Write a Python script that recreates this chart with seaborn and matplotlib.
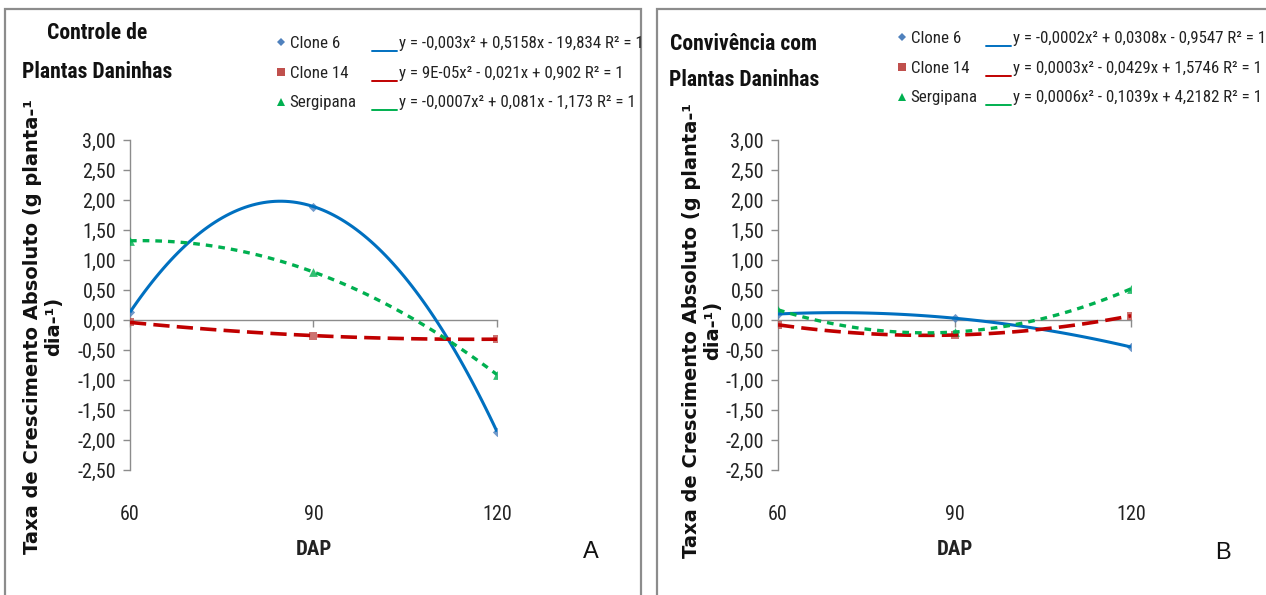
import numpy as np
import pandas as pd
import matplotlib
matplotlib.use("Agg")
import matplotlib.pyplot as plt
import seaborn as sns
from matplotlib import font_manager as fm
from matplotlib.lines import Line2D
from matplotlib.patches import Rectangle
from matplotlib.legend_handler import HandlerLine2D

# ---------------- data ----------------
dap = [60, 90, 120]
a_clone6 = [0.13, 1.89, -1.86]
a_clone14 = [-0.04, -0.26, -0.32]
a_sergipana = [1.32, 0.80, -0.91]
b_clone6 = [0.10, 0.03, -0.45]
b_clone14 = [-0.08, -0.25, 0.07]
b_sergipana = [0.17, -0.20, 0.52]
series_names = ["Clone 6", "Clone 14", "Sergipana"]
eq_a = ["y = -0,003x² + 0,5158x - 19,834 R² = 1",
        "y = 9E-05x² - 0,021x + 0,902 R² = 1",
        "y = -0,0007x² + 0,081x - 1,173 R² = 1"]
eq_b = ["y = -0,0002x² + 0,0308x - 0,9547 R² = 1",
        "y = 0,0003x² - 0,0429x + 1,5746 R² = 1",
        "y = 0,0006x² - 0,1039x + 4,2182 R² = 1"]
y_ticks = [3.0, 2.5, 2.0, 1.5, 1.0, 0.5, 0.0, -0.5, -1.0, -1.5, -2.0, -2.5]
x_ticks = [60, 90, 120]
title_a = ["Controle de", "Plantas Daninhas"]
title_b = ["Convivência com", "Plantas Daninhas"]
ylabel = "Taxa de Crescimento Absoluto (g planta-¹\ndia-¹)"

# ---------------- style ----------------
sns.set_style("white")

# pick a condensed face if one is installed
_entries = fm.fontManager.ttflist
_pref = ["Liberation Sans Narrow", "Roboto Condensed", "Open Sans Condensed",
         "Noto Sans Condensed", "Arial Narrow"]
_names = {e.name for e in _entries}
NFAM, NSTRETCH, NSCALE = None, "normal", 1.0
for p in _pref:
    if p in _names:
        NFAM = p
        break
if NFAM is None:
    for fam in ["Noto Sans", "Open Sans", "Roboto", "DejaVu Sans"]:
        if any(e.name == fam and str(e.stretch) in ("condensed", "semi-condensed",
                                                      "extra-condensed")
               for e in _entries):
            NFAM, NSTRETCH = fam, "condensed"
            break
if NFAM is None:
    NFAM, NSCALE = "Liberation Sans", 0.88
NARROW = [NFAM, "DejaVu Sans"]
plt.rcParams["font.family"] = NARROW
plt.rcParams["font.stretch"] = NSTRETCH


def fs(v):
    return v * NSCALE


W, H = 1266, 595
fig = plt.figure(figsize=(W / 100, H / 100), dpi=100)
fig.patch.set_facecolor("white")

line_colors = ["#0070C0", "#C00000", "#00B050"]
mark_colors = ["#4F81BD", "#C0504D", "#00B050"]
markers = ["D", "s", "^"]
msizes = [22, 34, 40]
lws = [2.2, 2.6, 2.4]
dashes = [None, (4.5, 2.0), (2.0, 1.8)]
GRAY = "#8C8C8C"
TXT = "#222222"
LEG_FS = fs(12.2)


def fx(px):
    return px / W


def fy(py):
    return 1 - py / H


class UnderLine(HandlerLine2D):
    """Legend line drawn low, like an underline (Excel trendline sample)."""

    def create_artists(self, legend, orig_handle, xdescent, ydescent, width,
                       height, fontsize, trans):
        arts = super().create_artists(legend, orig_handle, xdescent, ydescent,
                                      width, height, fontsize, trans)
        for a in arts:
            yd = np.asarray(a.get_ydata(), float)
            a.set_ydata(np.full_like(yd, -0.25 * height))
        return arts


# panel borders
for x0, x1 in [(5, 641), (657, 1270)]:
    fig.add_artist(Rectangle((fx(x0), fy(600)), fx(x1) - fx(x0), fy(9) - fy(600),
                             transform=fig.transFigure, fill=False,
                             ec=GRAY, lw=1.6))


def make_panel(xl, xr, series, eqs, title, title_y, title_cx, leg1_x, leg2_x,
               leg_top, ylab_cx, ylab_cy, letter, letter_xy):
    ax = fig.add_axes([fx(xl), fy(470), fx(xr) - fx(xl), fy(140) - fy(470)])
    ax.set_facecolor("none")
    for i, vals in enumerate(series):
        df = pd.DataFrame({"DAP": dap, "val": vals})
        lk = dict(color=line_colors[i], lw=lws[i], zorder=3,
                  solid_capstyle="butt", dash_capstyle="butt")
        if dashes[i] is not None:
            lk["dashes"] = dashes[i]
        sns.regplot(data=df, x="DAP", y="val", ax=ax, order=2, ci=None,
                    marker=markers[i], truncate=True,
                    scatter_kws=dict(s=msizes[i], color=mark_colors[i],
                                     zorder=2.8, linewidths=0),
                    line_kws=lk)
    ax.set_xlabel("")
    ax.set_ylabel("")
    ax.set_xlim(60, 120)
    ax.set_ylim(-2.5, 3.0)
    ax.set_yticks(y_ticks)
    ax.set_yticklabels([f"{v:.2f}".replace(".", ",") for v in y_ticks])
    ax.set_xticks(x_ticks)
    ax.tick_params(axis="x", labelbottom=False, direction="out", length=5,
                   width=1, color=GRAY, bottom=True)
    ax.tick_params(axis="y", direction="out", length=5, width=1, color=GRAY,
                   labelsize=fs(14.5), labelcolor=TXT, pad=5, left=True)
    for s in ["top", "right"]:
        ax.spines[s].set_visible(False)
    ax.spines["bottom"].set_position(("data", 0))
    for s in ["left", "bottom"]:
        ax.spines[s].set_color(GRAY)
        ax.spines[s].set_linewidth(1)
        ax.spines[s].set_zorder(1)
    ax.set_axisbelow(True)
    ax.grid(False)

    sec = ax.secondary_xaxis("bottom")
    sec.set_xticks(x_ticks)
    sec.set_xticklabels([str(t) for t in x_ticks])
    sec.spines["bottom"].set_visible(False)
    sec.tick_params(length=0, pad=25, labelsize=fs(14.5), labelcolor=TXT)

    ax.text(0.5, -0.24, "DAP", transform=ax.transAxes, ha="center",
            va="center", fontsize=fs(15), fontweight="bold", color=TXT)

    for t, ty in zip(title, title_y):
        fig.text(fx(title_cx), fy(ty), t, ha="center", va="center",
                 fontsize=fs(15.6), fontweight="bold", color="#111111")

    fig.text(fx(ylab_cx), fy(ylab_cy), ylabel, rotation=90, ha="center",
             va="center", multialignment="center", fontsize=14.0,
             fontweight="bold", family=["DejaVu Sans"], stretch="normal",
             linespacing=1.15, color="#111111")

    fig.text(fx(letter_xy[0]), fy(letter_xy[1]), letter, ha="center",
             va="center", fontsize=17, family=["Liberation Sans", "DejaVu Sans"],
             stretch="normal", color="#111111")

    prop = dict(family=NARROW, stretch=NSTRETCH, size=LEG_FS)
    mk_handles = [Line2D([], [], ls="none", marker=markers[i],
                         color=mark_colors[i], markersize=[4.5, 5.5, 6][i],
                         markeredgewidth=0) for i in range(3)]
    ln_handles = [Line2D([], [], color=line_colors[i], lw=1.4) for i in range(3)]
    leg1 = fig.legend(mk_handles, series_names, loc="upper left",
                      bbox_to_anchor=(fx(leg1_x), fy(leg_top)), frameon=False,
                      prop=prop, handlelength=0.6, handletextpad=0.2,
                      labelspacing=0.87, borderpad=0, borderaxespad=0)
    for t in leg1.get_texts():
        t.set_color(TXT)
    leg2 = fig.legend(ln_handles, eqs, loc="upper left",
                      bbox_to_anchor=(fx(leg2_x), fy(leg_top)), frameon=False,
                      prop=prop, handlelength=1.5, handletextpad=0.12,
                      labelspacing=0.87, borderpad=0, borderaxespad=0,
                      handler_map={Line2D: UnderLine()})
    for t in leg2.get_texts():
        t.set_color(TXT)
    return ax


make_panel(130, 497, [a_clone6, a_clone14, a_sergipana], eq_a, title_a,
           [33, 72], 97, 276, 372, 36, 43, 326, "A", (591, 552))
make_panel(778, 1131, [b_clone6, b_clone14, b_sergipana], eq_b, title_b,
           [44, 80], 744, 897, 986, 31, 702, 330, "B", (1223, 553))

fig.savefig("out.png", dpi=100, facecolor="white")
